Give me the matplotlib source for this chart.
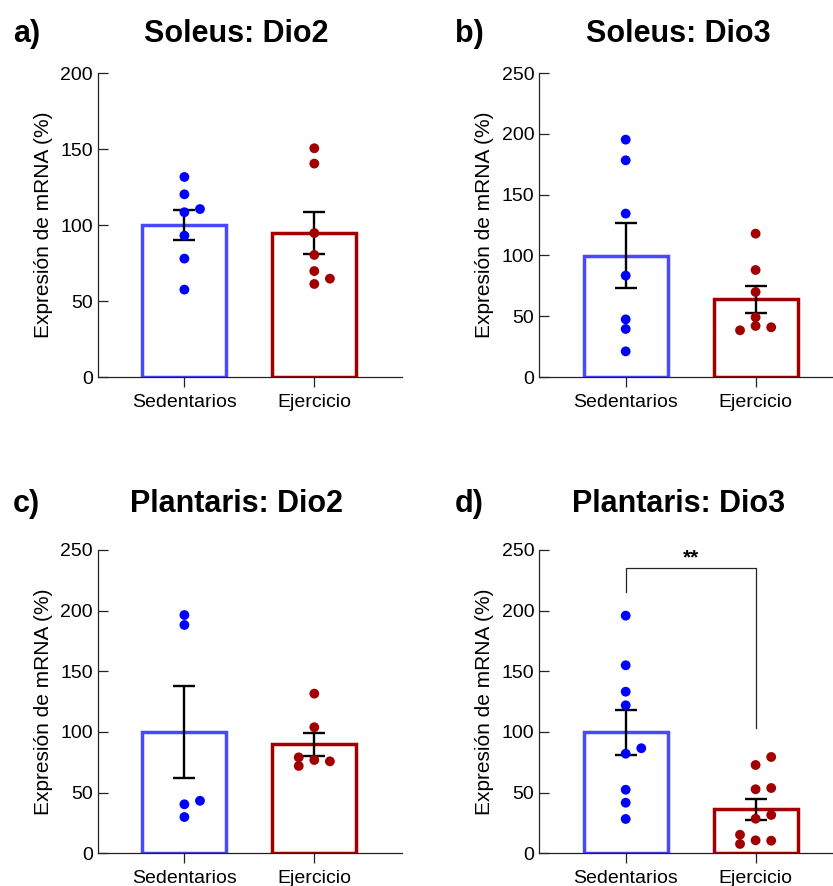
import numpy as np
import matplotlib
matplotlib.use("Agg")
import matplotlib.pyplot as plt

plt.rcParams['font.family'] = ['Liberation Sans', 'DejaVu Sans']

# datos (% de expresion de mRNA)
grupos = ["Sedentarios", "Ejercicio"]

soleus_dio2_sed = [131.6, 120.2, 108.4, 110.5, 93.0, 77.9, 57.5]
soleus_dio2_ej = [150.5, 140.4, 94.7, 80.3, 69.7, 64.7, 61.2]

soleus_dio3_sed = [195.2, 178.2, 134.4, 83.4, 47.4, 39.5, 21.1]
soleus_dio3_ej = [117.9, 88.0, 69.9, 49.1, 42.0, 40.9, 38.4]

plantaris_dio2_sed = [196.4, 188.2, 40.4, 43.3, 29.9]
plantaris_dio2_ej = [131.6, 103.9, 76.9, 75.8, 72.0, 79.1]

plantaris_dio3_sed = [195.9, 155.0, 133.2, 122.0, 82.1, 86.6, 52.4, 41.7, 28.3]
plantaris_dio3_ej = [72.8, 79.4, 52.8, 53.8, 28.5, 31.6, 10.7, 10.4, 7.7, 15.3]

paneles = [
    ("a)", "Soleus: Dio2", soleus_dio2_sed, soleus_dio2_ej, 200),
    ("b)", "Soleus: Dio3", soleus_dio3_sed, soleus_dio3_ej, 250),
    ("c)", "Plantaris: Dio2", plantaris_dio2_sed, plantaris_dio2_ej, 250),
    ("d)", "Plantaris: Dio3", plantaris_dio3_sed, plantaris_dio3_ej, 250),
]

# significancia en d)
sig_texto = "**"
sig_y = 235
sig_patas = [215, 103]

col_barra = ["#4848FF", "#A00000"]
col_punto = ["#0000FF", "#A00000"]

W, H = 833, 886
fig = plt.figure(figsize=(W / 100, H / 100), dpi=100)

# posiciones de los ejes en pixeles (izq, arriba, ancho, alto)
cajas = [(98, 73, 304, 304), (539.3, 73, 304, 304),
         (98, 550, 304, 303.3), (539.3, 550, 304, 303.3)]
titulo_x = [236.6, 678.2, 236.6, 678.2]
titulo_base = [41.7, 41.7, 511.7, 511.7]
letra_x = [12.7, 455, 12.7, 455]


def swarm(ax, vals, paso=0.12, umbral=8.3):
    # reparte los puntos que se solapan a los lados (tipo Prism)
    y0 = ax.transData.transform((0, 0))[1]
    y1 = ax.transData.transform((0, 1))[1]
    ppu = abs(y1 - y0)
    puestos = []
    offs = []
    for v in vals:
        for s in (0, 1, -1, 2, -2):
            ok = True
            for pv, ps in puestos:
                if ps == s and abs(pv - v) * ppu < umbral:
                    ok = False
                    break
            if ok:
                break
        puestos.append((v, s))
        offs.append(s * paso)
    return np.array(offs)


for i, (letra, titulo, sed, ej, ymax) in enumerate(paneles):
    l, t, w, h = cajas[i]
    ax = fig.add_axes([l / W, 1 - (t + h) / H, w / W, h / H])
    ax.set_xlim(-0.665, 1.675)
    ax.set_ylim(0, ymax)
    ax.set_yticks(np.arange(0, ymax + 1, 50))
    ax.set_xticks([0, 1])
    ax.set_xticklabels(grupos)

    for j, vals in enumerate([sed, ej]):
        vals = np.array(vals)
        media = vals.mean()
        sem = vals.std(ddof=1) / np.sqrt(len(vals))
        ax.bar(j, media, width=0.646, color="white", edgecolor=col_barra[j],
               linewidth=2.5, zorder=1)
        ax.errorbar(j, media, yerr=sem, color="black", elinewidth=1.7,
                    capsize=7.8, capthick=1.7, zorder=2)
        dx = swarm(ax, vals)
        ax.scatter(j + dx, vals, s=50, color=col_punto[j], edgecolors="none",
                   zorder=3, clip_on=False)

    for lado in ["top", "right"]:
        ax.spines[lado].set_visible(False)
    for lado in ["left", "bottom"]:
        ax.spines[lado].set_color("#222222")
        ax.spines[lado].set_linewidth(0.9)
    ax.tick_params(axis="y", direction="in", length=7.2, width=0.9,
                   color="#222222", labelsize=14, pad=3.6)
    ax.tick_params(axis="x", direction="out", length=7.2, width=0.9,
                   color="#222222", labelsize=14, pad=5)
    ax.set_ylabel("Expresión de mRNA (%)", fontsize=15)
    ax.yaxis.set_label_coords(-0.148, 0.5)

    fig.text(titulo_x[i] / W, 1 - titulo_base[i] / H, titulo, fontsize=22,
             fontweight="bold", ha="center", va="baseline")
    fig.text(letra_x[i] / W, 1 - titulo_base[i] / H, letra, fontsize=22,
             fontweight="bold", ha="left", va="baseline")

    if letra == "d)":
        ax.plot([0, 0, 1, 1], [sig_patas[0], sig_y, sig_y, sig_patas[1]],
                color="#222222", linewidth=0.9, zorder=2)
        ax.text(0.5, sig_y + 0.5, sig_texto, ha="center", va="bottom",
                fontsize=15, fontweight="bold")

fig.savefig("out.png", dpi=100)
